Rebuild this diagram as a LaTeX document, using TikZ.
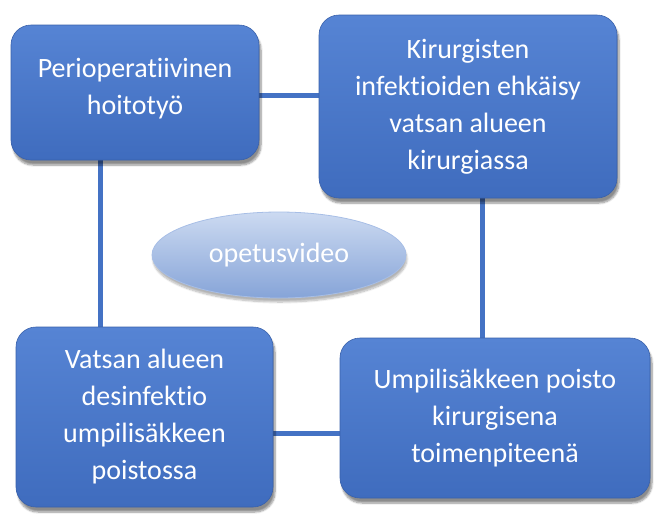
\documentclass[tikz,border=0pt]{standalone}
\usepackage{fontspec}
\setmainfont[Ligatures={NoCommon}]{Carlito}
\usetikzlibrary{shadows.blur,backgrounds,shapes.geometric}
\definecolor{offblue}{HTML}{4472C4}
\definecolor{boxtop}{HTML}{5684D4}
\definecolor{boxbot}{HTML}{3F6CBE}
\definecolor{elltop}{HTML}{CCDAF1}
\definecolor{ellbot}{HTML}{86A4D8}
\definecolor{ellline}{HTML}{A7BEE6}
\tikzset{
  boxnode/.style={rounded corners=20pt, top color=boxtop, bottom color=boxbot,
    draw=boxbot!90!black, line width=0.6pt, text=white, align=center,
    font=\fontsize{28}{37}\selectfont, inner sep=0pt,
    blur shadow={shadow xshift=2pt, shadow yshift=-5pt, shadow blur steps=8, shadow opacity=45}},
  ellnode/.style={ellipse, top color=elltop, bottom color=ellbot, draw=ellline,
    line width=0.8pt, text=white, font=\fontsize{28}{37}\selectfont, inner sep=0pt,
    blur shadow={shadow xshift=1pt, shadow yshift=-4pt, shadow blur steps=8, shadow opacity=30}},
  link/.style={draw=offblue, line width=5pt}
}
\begin{document}
\begin{tikzpicture}[x=1pt,y=1pt]
\useasboundingbox (0,0) rectangle (663,-531);
\node[boxnode, minimum width=248pt, minimum height=135pt] (b1) at (135,-92.5)
  {Perioperatiivinen\\hoitotyö\\[-25pt]\mbox{}};
\node[boxnode, minimum width=298pt, minimum height=183pt] (b2) at (468,-106.5)
  {Kirurgisten\\infektioiden ehkäisy\\vatsan alueen\\kirurgiassa};
\node[boxnode, minimum width=257pt, minimum height=180pt] (b3) at (144.5,-417)
  {Vatsan alueen\\desinfektio\\umpilisäkkeen\\poistossa};
\node[boxnode, minimum width=310pt, minimum height=160pt] (b4) at (495,-418)
  {Umpilisäkkeen poisto\\kirurgisena\\toimenpiteenä};
\node[ellnode, minimum width=254pt, minimum height=86pt] (ell) at (279,-255)
  {opetusvideo};
\begin{scope}[on background layer]
  \draw[link] (b1.east |- 0,-95) -- (b2.west |- 0,-95);
  \draw[link] (b1.south -| 100,0) -- (b3.north -| 100,0);
  \draw[link] (b2.south -| 482,0) -- (b4.north -| 482,0);
  \draw[link] (b3.east |- 0,-433) -- (b4.west |- 0,-433);
\end{scope}
\end{tikzpicture}
\end{document}
